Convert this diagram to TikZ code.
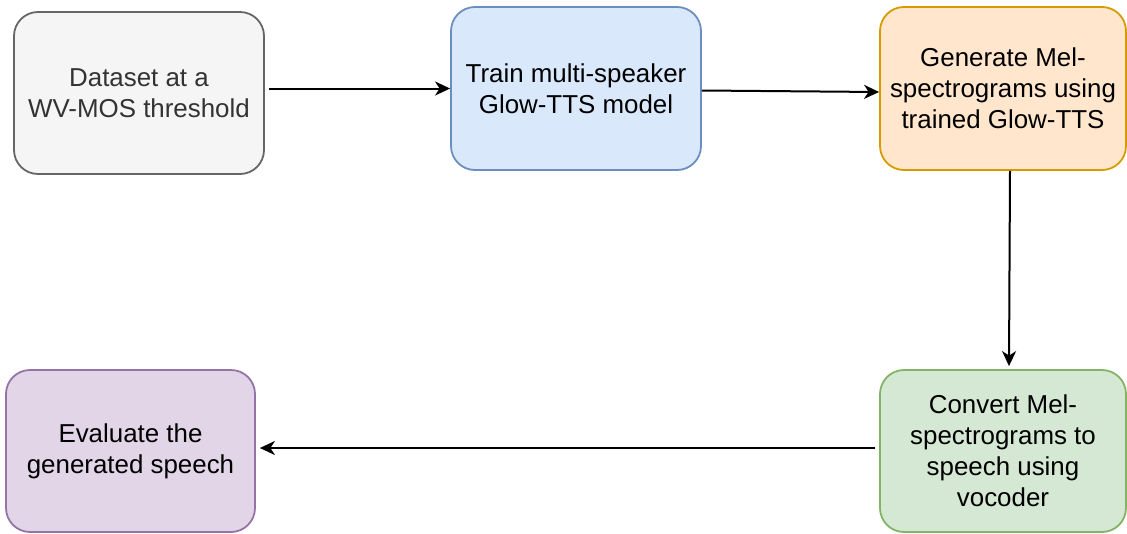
\documentclass[tikz,border=0pt]{standalone}
\usepackage{fontspec}
\setmainfont{Liberation Sans}
\usetikzlibrary{arrows.meta}
\definecolor{grayfill}{HTML}{F5F5F5}
\definecolor{graydraw}{HTML}{666666}
\definecolor{graytext}{HTML}{333333}
\definecolor{bluefill}{HTML}{DAE8FC}
\definecolor{bluedraw}{HTML}{6C8EBF}
\definecolor{orangefill}{HTML}{FFE6CC}
\definecolor{orangedraw}{HTML}{D79B00}
\definecolor{greenfill}{HTML}{D5E8D4}
\definecolor{greendraw}{HTML}{82B366}
\definecolor{purplefill}{HTML}{E1D5E7}
\definecolor{purpledraw}{HTML}{9673A6}
\tikzset{
  stepbox/.style={rectangle, rounded corners=24pt, line width=1.8pt, inner sep=0pt,
    align=center, font=\fontsize{25.9}{31}\selectfont, minimum height=162pt},
  flowarrow/.style={line width=2pt, -{Stealth[length=15pt,width=14pt,inset=4.5pt]}},
}
\begin{document}
\begin{tikzpicture}[x=1pt,y=-1pt]
\useasboundingbox (0,0) rectangle (1127,533);
\node[stepbox, fill=grayfill, draw=graydraw, text=graytext, minimum width=250pt] (b1) at (139,93)
  {Dataset at a\\WV-MOS threshold};
\node[stepbox, fill=bluefill, draw=bluedraw, minimum width=250pt, minimum height=163pt] (b2) at (576,88.5)
  {Train multi-speaker\\Glow-TTS model};
\node[stepbox, fill=orangefill, draw=orangedraw, minimum width=246pt, minimum height=163pt] (b3) at (1003,88.5)
  {Generate Mel-\\spectrograms using\\trained Glow-TTS};
\node[stepbox, fill=greenfill, draw=greendraw, minimum width=246pt] (b4) at (1003,451)
  {Convert Mel-\\spectrograms to\\speech using\\vocoder};
\node[stepbox, fill=purplefill, draw=purpledraw, minimum width=249pt] (b5) at (130.5,451)
  {Evaluate the\\generated speech};
\draw[flowarrow] ([xshift=4pt]b1.east |- b2.west) -- (b2.west);
\draw[flowarrow] ([yshift=-2pt]b2.east) -- ([yshift=-3.5pt]b3.west);
\draw[flowarrow] ([xshift=7pt]b3.south) -- ([xshift=6pt,yshift=3pt]b4.north);
\draw[flowarrow] ([xshift=-4pt,yshift=3pt]b4.west) -- ([xshift=4pt,yshift=3pt]b5.east);
\end{tikzpicture}
\end{document}
